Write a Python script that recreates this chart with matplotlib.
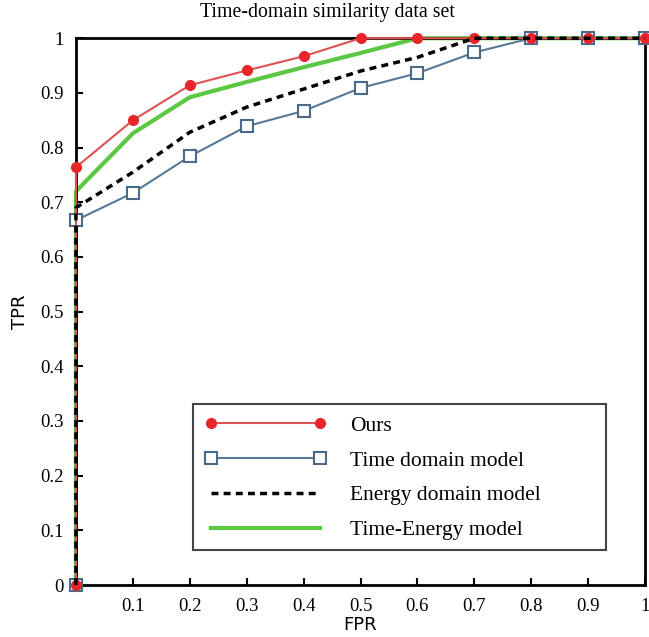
import matplotlib
matplotlib.use("Agg")
import matplotlib.pyplot as plt
from matplotlib.patches import Rectangle

fpr = [0, 0, 0.1, 0.2, 0.3, 0.4, 0.5, 0.6, 0.7, 0.8, 0.9, 1.0]
ours = [0, 0.764, 0.850, 0.914, 0.941, 0.967, 1.0, 1.0, 1.0, 1.0, 1.0, 1.0]
time_domain = [0, 0.667, 0.717, 0.784, 0.839, 0.867, 0.909, 0.936, 0.974, 1.0, 1.0, 1.0]
energy_domain = [0, 0.690, 0.755, 0.828, 0.874, 0.907, 0.940, 0.965, 1.0, 1.0, 1.0, 1.0]
time_energy = [0, 0.720, 0.826, 0.892, 0.920, 0.947, 0.973, 1.0, 1.0, 1.0, 1.0, 1.0]

xticks = [0.1, 0.2, 0.3, 0.4, 0.5, 0.6, 0.7, 0.8, 0.9, 1]
xticklabels = ["0.1", "0.2", "0.3", "0.4", "0.5", "0.6", "0.7", "0.8", "0.9", "1"]
yticks = [0, 0.1, 0.2, 0.3, 0.4, 0.5, 0.6, 0.7, 0.8, 0.9, 1]
yticklabels = ["0", "0.1", "0.2", "0.3", "0.4", "0.5", "0.6", "0.7", "0.8", "0.9", "1"]

fig = plt.figure(figsize=(6.49, 6.37), dpi=100)
ax = fig.add_axes([0.117, 0.0816, 0.877, 0.8584])

serif = "Liberation Serif"

ax.plot(fpr, time_domain, color="#5a7894", lw=1.5, marker="s", ms=8, mfc="white",
        mec="#4a6a8a", mew=1.5, label="Time domain model", clip_on=False, zorder=3)
ax.plot(fpr, ours, color="#e05252", lw=1.5, marker="o", ms=7, mfc="#e8262a",
        mec="#e8262a", label="Ours", clip_on=False, zorder=3.5)
ax.plot(fpr, energy_domain, color="black", lw=2.5, ls=(0, (2, 1.5)),
        label="Energy domain model", clip_on=False, zorder=4)
ax.plot(fpr, time_energy, color="#5cc842", lw=3, label="Time-Energy model",
        clip_on=False, zorder=2)

ax.set_xlim(0, 1)
ax.set_ylim(0, 1)
ax.set_xticks(xticks)
ax.set_xticklabels(xticklabels, fontfamily=serif, fontsize=13.5)
ax.set_yticks(yticks)
ax.set_yticklabels(yticklabels, fontfamily=serif, fontsize=13.5)
ax.tick_params(direction="in", length=5, width=1.5, pad=9)

for s in ax.spines.values():
    s.set_linewidth(2)
    s.set_color("black")

fig.text(327 / 649, 1 - 12 / 637, "Time-domain similarity data set", fontfamily=serif,
         fontsize=14.3, ha="center", va="center")
ax.set_xlabel("FPR", fontsize=13, labelpad=1)
ax.set_ylabel("TPR", fontsize=13, labelpad=8)

# legend frame (drawn separately so it can be wider than its contents)
lx0, ly0, lx1, ly1 = 0.2056, 0.064, 0.931, 0.331
ax.add_patch(Rectangle((lx0, ly0), lx1 - lx0, ly1 - ly0, transform=ax.transAxes,
                       fill=True, facecolor="white", edgecolor="#444444", lw=1.5, zorder=5))

handles, labels = ax.get_legend_handles_labels()
order = ["Ours", "Time domain model", "Energy domain model", "Time-Energy model"]
hmap = dict(zip(labels, handles))
leg = ax.legend([hmap[k] for k in order], order, loc="upper left",
                bbox_to_anchor=(lx0, ly1), prop={"family": serif, "size": 15.5},
                frameon=False, handlelength=5.67,
                handletextpad=1.07, borderpad=0.55, labelspacing=0.68, borderaxespad=0,
                numpoints=2)
leg.set_zorder(6)

fig.savefig("out.png", dpi=100)
